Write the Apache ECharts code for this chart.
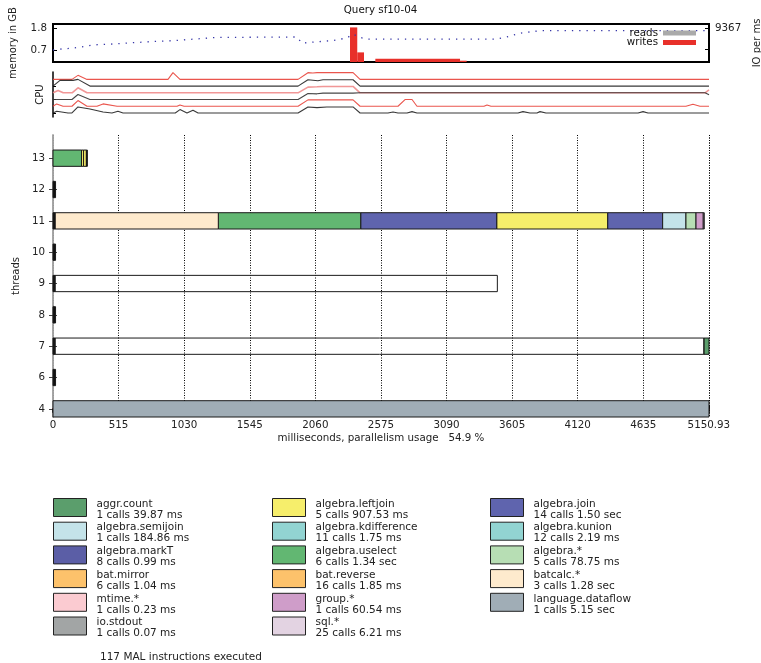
<!DOCTYPE html>
<html>
<head>
<meta charset="utf-8">
<script src="https://cdn.jsdelivr.net/npm/echarts@6.0.0/dist/echarts.min.js"></script>
<style>
  html, body { margin: 0; padding: 0; background: #fff; }
  #chart { width: 761px; height: 663px; }
</style>
</head>
<body>
<div id="chart"></div>
<script>
  // query length in ms
  var totalMs = 5150.93;

  // memory usage (GB) over time
  var memory = [[0,0.72],[68,0.77],[133,0.8],[199,0.85],[251,0.9],[314,0.97],[448,1.01],[762,1.13],
    [942,1.18],[1288,1.34],[1916,1.36],[1955,1.06],[2199,1.19],[2306,1.31],[2356,1.5],[2411,1.34],
    [2463,1.26],[3484,1.26],[3562,1.36],[3667,1.55],[3824,1.67],[5140,1.67]];

  // io writes per ms: [start, end, value]
  var ioWrites = [[2332,2389,9530],[2389,2442,2650],[2531,3196,900],[3196,3248,360]];
  var ioReads = [];

  // cpu load per core, [ms, load 0..1]
  var cpu0 = [[0,0],[149,0],[196,0.6],[267,0],[903,0],[942,1.0],[997,0],[1924,0],[2002,1.0],[2040,0.95],
    [2073,1.0],[2356,1.0],[2411,0],[5151,0]];
  var cpu1 = [[0,0],[55,0.85],[157,0.85],[196,1.0],[290,0],[1924,0],[2002,0.95],[2080,0.8],[2120,0.95],
    [2356,0.95],[2411,0],[5151,0]];
  var cpu2 = [[0,0],[40,0.35],[80,0],[150,0],[196,0.75],[267,0],[1924,0],[2002,0.85],[2073,0.9],[2120,0.95],
    [2356,0.95],[2411,0],[5120,0],[5151,0.45]];
  var cpu3 = [[0,0],[149,0],[196,0.75],[290,0],[1924,0],[2002,0.9],[2073,0.85],[2120,0.95],[2356,0.95],
    [2411,1.0],[5120,1.0],[5151,0.7]];
  var cpu4 = [[0,0],[29,0.35],[79,0],[149,0],[196,0.85],[267,0],[345,0],[393,0.35],[503,0],[974,0],[997,0.2],
    [1029,0],[1924,0],[2002,0.95],[2356,0.95],[2411,0],[2709,0],[2764,1.0],[2819,1.0],[2858,0],[3384,0],
    [3408,0.2],[3439,0],[4970,0],[5025,0.3],[5080,0],[5151,0]];
  var cpu5 = [[0,0],[29,0.25],[118,0],[149,0],[196,0.9],[290,0.6],[393,0.15],[463,0],[510,0.25],[550,0],
    [960,0],[997,0.5],[1052,0],[1099,0.4],[1139,0],[1924,0],[2002,0.9],[2073,0.8],[2150,0.9],[2356,0.9],
    [2411,0],[2630,0],[2670,0.15],[2709,0],[2780,0],[2819,0.2],[2858,0],[3651,0],[3690,0.2],[3745,0],
    [3800,0],[3824,0.2],[3871,0],[4594,0],[4633,0.2],[4672,0],[5151,0]];

  // thread rows, bottom to top
  var threadLabels = ['4','6','7','8','9','10','11','12','13'];

  // MAL instructions per thread: [operation, start ms, end ms]
  var thread13 = [['algebra.uselect',0,224],['algebra.leftjoin',224,240],['algebra.leftjoin',240,262],['misc',262,268]];
  var thread12 = [['misc',0,20]];
  var thread11 = [['misc',0,16],['batcalc.*',16,1298],['algebra.uselect',1298,2416],['algebra.join',2416,3484],
    ['algebra.leftjoin',3484,4356],['algebra.join',4356,4787],['algebra.semijoin',4787,4970],
    ['algebra.*',4970,5049],['group.*',5049,5106],['sql.*',5106,5112]];
  var thread10 = [['misc',0,20]];
  var thread9 = [['misc',0,16],['idle',16,3489]];
  var thread8 = [['misc',0,20]];
  var thread7 = [['misc',0,16],['idle',16,5111],['aggr.count',5111,5150.93]];
  var thread6 = [['misc',0,20]];
  var thread4 = [['language.dataflow',0,5150.93]];

  // legend: operations in row order, with call counts and time
  var opNames = ['aggr.count','algebra.leftjoin','algebra.join','algebra.semijoin','algebra.kdifference',
    'algebra.kunion','algebra.markT','algebra.uselect','algebra.*','bat.mirror','bat.reverse','batcalc.*',
    'mtime.*','group.*','language.dataflow','io.stdout','sql.*'];
  var opCalls = [1,5,14,1,11,12,8,6,5,6,16,3,1,1,1,1,25];
  var opTimes = ['39.87 ms','907.53 ms','1.50 sec','184.86 ms','1.75 ms','2.19 ms','0.99 ms','1.34 sec',
    '78.75 ms','1.04 ms','1.85 ms','1.28 sec','0.23 ms','60.54 ms','5.15 sec','0.07 ms','6.21 ms'];
  var opColors = ['#5b9e6c','#f6ee6b','#5f64ae','#c4e3e9','#92d4d2','#92d4d2','#5b5ea6','#62b772','#b7deb4',
    '#fdc26b','#fdc26b','#feeacd','#fbcbd1','#cf9dc9','#a0adb6','#a2a5a5','#e3d3e2'];

  var font = 'DejaVu Sans';
  var chart = echarts.init(document.getElementById('chart'));

  var threadRows = {'4': thread4, '6': thread6, '7': thread7, '8': thread8, '9': thread9,
    '10': thread10, '11': thread11, '12': thread12, '13': thread13};

  function tasksFor(op) {
    var out = [];
    threadLabels.forEach(function (t, row) {
      threadRows[t].forEach(function (task) {
        if (task[0] === op) out.push([task[1], task[2], row]);
      });
    });
    return out;
  }

  function renderTask(params, api) {
    var s = api.coord([api.value(0), api.value(2)]);
    var e = api.coord([api.value(1), api.value(2)]);
    var h = api.size([0, 0.52])[1];
    return {
      type: 'rect',
      shape: {x: s[0], y: s[1] - h / 2, width: Math.max(e[0] - s[0], 1), height: h},
      style: {fill: api.visual('color'), stroke: '#1a1a1a', lineWidth: 1}
    };
  }

  function renderIo(params, api) {
    var a = api.coord([api.value(0), api.value(2)]);
    var b = api.coord([api.value(1), 0]);
    return {
      type: 'rect',
      shape: {x: a[0], y: a[1], width: b[0] - a[0], height: b[1] - a[1]},
      style: {fill: api.visual('color')}
    };
  }

  var series = [];

  series.push({
    name: 'memory', type: 'line', xAxisIndex: 0, yAxisIndex: 0, data: memory,
    symbol: 'none', lineStyle: {color: '#3535a8', width: 1.3, type: [1.3, 6]}, z: 3
  });
  series.push({
    name: 'reads', type: 'custom', xAxisIndex: 0, yAxisIndex: 1, data: ioReads,
    renderItem: renderIo, itemStyle: {color: '#aaaaaa'}
  });
  series.push({
    name: 'writes', type: 'custom', xAxisIndex: 0, yAxisIndex: 1, data: ioWrites,
    renderItem: renderIo, itemStyle: {color: '#e8302a'}, encode: {x: [0, 1], y: 2}
  });

  var cores = [cpu0, cpu1, cpu2, cpu3, cpu4, cpu5];
  var coreColors = ['#e8433a', '#222222', '#ef8c8c', '#333333', '#e8433a', '#222222'];
  cores.forEach(function (core, i) {
    var base = cores.length - 1 - i;
    series.push({
      name: 'cpu' + i, type: 'line', xAxisIndex: 1, yAxisIndex: 2, symbol: 'none',
      data: core.map(function (p) { return [p[0], base + p[1]]; }),
      lineStyle: {color: coreColors[i], width: i === 2 ? 1.6 : 1.1, opacity: 0.9}
    });
  });

  var barOps = opNames.concat(['misc', 'idle']);
  var barColors = opColors.concat(['#111111', 'rgba(255,255,255,0)']);
  barOps.forEach(function (op, i) {
    series.push({
      name: op, type: 'custom', xAxisIndex: 2, yAxisIndex: 3,
      data: tasksFor(op), renderItem: renderTask,
      itemStyle: {color: barColors[i]}, encode: {x: [0, 1], y: 2}, z: 2
    });
  });

  function legendColumn(col, left) {
    return {
      orient: 'vertical', left: left, top: 496, padding: 0, selectedMode: false,
      icon: 'rect', itemWidth: 33, itemHeight: 18, itemGap: -0.8,
      itemStyle: {borderColor: '#222', borderWidth: 1},
      data: opNames.filter(function (n, i) { return i % 3 === col; }),
      formatter: function (name) {
        var i = opNames.indexOf(name);
        return '{s| }\n{t|' + name + '}\n{t|' + opCalls[i] + ' calls ' + opTimes[i] + '}';
      },
      textStyle: {
        fontFamily: font, fontSize: 10.5, color: '#222',
        rich: {
          s: {fontSize: 1, lineHeight: 4},
          t: {fontFamily: font, fontSize: 10.5, lineHeight: 11, color: '#222', padding: [0, 0, 0, 5]}
        }
      }
    };
  }

  var threadTicks = threadLabels.map(function (t, i) { return i; });

  var option = {
    animation: false,
    backgroundColor: '#fff',
    textStyle: {fontFamily: font},
    title: [
      {text: 'Query sf10-04', left: 'center', top: 0,
        textStyle: {fontFamily: font, fontSize: 10.3, fontWeight: 'normal', color: '#111'}},
      {text: '117 MAL instructions executed', left: 100, top: 651.5, padding: 0,
        textStyle: {fontFamily: font, fontSize: 10.5, fontWeight: 'normal', color: '#222'}}
    ],
    legend: [
      {
        orient: 'vertical', right: 65, top: 28, padding: 0, align: 'right', selectedMode: false,
        icon: 'rect', itemWidth: 33, itemHeight: 5, itemGap: -0.5,
        data: ['reads', 'writes'],
        textStyle: {fontFamily: font, fontSize: 10.3, lineHeight: 8, color: '#111'}
      },
      legendColumn(0, 53),
      legendColumn(1, 272),
      legendColumn(2, 490)
    ],
    grid: [
      {left: 53, right: 52, top: 24, height: 38, show: true, borderColor: '#000', borderWidth: 2,
        outerBoundsMode: 'none'},
      {left: 53, right: 52, top: 72, height: 45, outerBoundsMode: 'none'},
      {left: 53, right: 52, top: 135, bottom: 246, outerBoundsMode: 'none'}
    ],
    xAxis: [
      {gridIndex: 0, type: 'value', min: 0, max: totalMs, show: false},
      {gridIndex: 1, type: 'value', min: 0, max: totalMs, show: false},
      {
        gridIndex: 2, type: 'value', min: 0, max: totalMs, interval: 515,
        name: 'milliseconds, parallelism usage   54.9 %', nameLocation: 'middle', nameGap: 16,
        nameTextStyle: {fontFamily: font, fontSize: 10.3, color: '#222'},
        axisLine: {lineStyle: {color: '#a33a3a', width: 2}},
        axisTick: {inside: true, length: 4, lineStyle: {color: '#000'}},
        axisLabel: {fontFamily: font, fontSize: 10.3, color: '#222', margin: 3,
          formatter: function (v) { return Math.abs(v - totalMs) < 1 ? String(totalMs) : String(v); }},
        splitLine: {show: true, lineStyle: {color: '#000', type: [1, 1.5], width: 1}}
      },
      {
        gridIndex: 2, type: 'value', position: 'top', min: 0, max: totalMs, interval: 515,
        axisLine: {show: false},
        axisTick: {inside: true, length: 4, lineStyle: {color: '#000', width: 1.5}},
        axisLabel: {show: false}, splitLine: {show: false}
      }
    ],
    yAxis: [
      {
        gridIndex: 0, type: 'value', min: 0.13, max: 2.0,
        name: 'memory in GB', nameLocation: 'middle', nameRotate: 90, nameGap: 35,
        nameTextStyle: {fontFamily: font, fontSize: 10, color: '#222'},
        axisLine: {show: false},
        axisTick: {inside: true, length: 4, lineStyle: {color: '#000'}, customValues: [0.7, 1.8]},
        axisLabel: {fontFamily: font, fontSize: 10.3, color: '#222', margin: 6, customValues: [0.7, 1.8],
          formatter: function (v) { return v.toFixed(1); }},
        splitLine: {show: false}
      },
      {
        gridIndex: 0, type: 'value', position: 'right', min: 0, max: 10470,
        name: 'IO per ms', nameLocation: 'middle', nameRotate: 90, nameGap: 43,
        nameTextStyle: {fontFamily: font, fontSize: 10, color: '#222'},
        axisLine: {show: false},
        axisTick: {inside: true, length: 4, lineStyle: {color: '#000'}, customValues: [3390, 9367]},
        axisLabel: {fontFamily: font, fontSize: 10.3, color: '#222', margin: 6, customValues: [9367],
          formatter: function (v) { return String(v); }},
        splitLine: {show: false}
      },
      {
        gridIndex: 1, type: 'value', min: -0.6, max: 6.1,
        name: 'CPU', nameLocation: 'middle', nameRotate: 90, nameGap: 8,
        nameTextStyle: {fontFamily: font, fontSize: 10, color: '#222'},
        axisLine: {show: true, lineStyle: {color: '#000', width: 1.5}},
        axisTick: {inside: true, length: 3, lineStyle: {color: '#000'}, customValues: [0, 2, 4]},
        axisLabel: {show: false}, splitLine: {show: false}
      },
      {
        gridIndex: 2, type: 'value', min: -0.26, max: 8.74,
        name: 'threads', nameLocation: 'middle', nameRotate: 90, nameGap: 28,
        nameTextStyle: {fontFamily: font, fontSize: 10, color: '#222'},
        axisLine: {show: true, lineStyle: {color: '#a0a0a0', width: 1.5}},
        axisTick: {inside: true, length: 4, lineStyle: {color: '#444'}, customValues: threadTicks},
        axisLabel: {fontFamily: font, fontSize: 10.3, color: '#222', margin: 8, customValues: threadTicks,
          formatter: function (v) { return threadLabels[Math.round(v)]; }},
        splitLine: {show: false}
      },
      {
        gridIndex: 2, type: 'value', position: 'right', min: -0.26, max: 8.74,
        axisLine: {show: true, lineStyle: {color: '#a0a0a0', width: 1.5}},
        axisTick: {inside: true, length: 4, lineStyle: {color: '#444'}, customValues: threadTicks},
        axisLabel: {show: false}, splitLine: {show: false}
      }
    ],
    series: series
  };

  chart.setOption(option);
</script>
</body>
</html>
